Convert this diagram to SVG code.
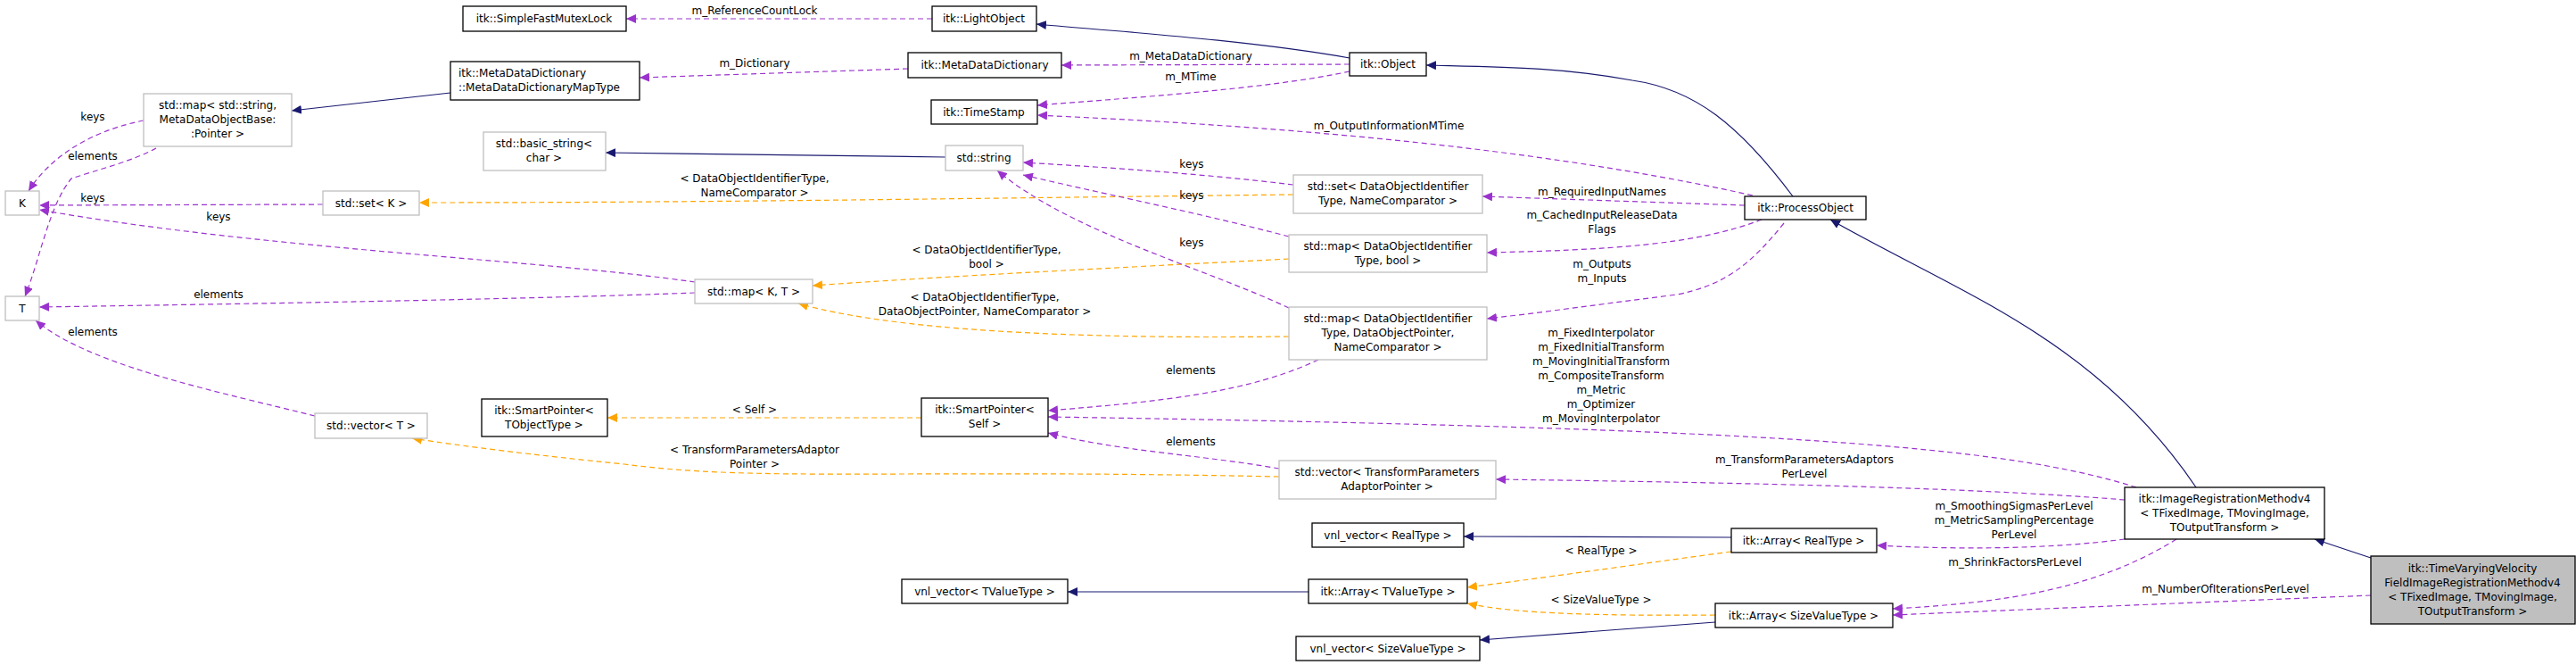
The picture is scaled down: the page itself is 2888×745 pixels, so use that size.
<svg xmlns="http://www.w3.org/2000/svg" width="2888" height="745" viewBox="0 0 2888 745">
<style>
text{font-family:"DejaVu Sans","Liberation Sans",sans-serif;font-size:12px;fill:#000;text-anchor:middle}
.l{text-anchor:start}
.b{fill:#fff;stroke:#000;stroke-width:1.3}
.g{fill:#fff;stroke:#bfbfbf;stroke-width:1.3}
.s{fill:#bfbfbf;stroke:#000;stroke-width:1.3}
.p{fill:none;stroke:#9a32cd;stroke-width:1.2;stroke-dasharray:6,4;marker-end:url(#mp)}
.o{fill:none;stroke:#ffa500;stroke-width:1.2;stroke-dasharray:6,4;marker-end:url(#mo)}
.n{fill:none;stroke:#191970;stroke-width:1.2;marker-end:url(#mn)}
</style>
<defs>
<marker id="mp" markerUnits="userSpaceOnUse" markerWidth="12" markerHeight="10" refX="11" refY="5" orient="auto"><path d="M0,0L11,5L0,10z" fill="#9a32cd"/></marker>
<marker id="mo" markerUnits="userSpaceOnUse" markerWidth="12" markerHeight="10" refX="11" refY="5" orient="auto"><path d="M0,0L11,5L0,10z" fill="#ffa500"/></marker>
<marker id="mn" markerUnits="userSpaceOnUse" markerWidth="12" markerHeight="10" refX="11" refY="5" orient="auto"><path d="M0,0L11,5L0,10z" fill="#191970"/></marker>
</defs>
<rect width="2888" height="745" fill="#fff"/>
<g id="connectors">
<path class="p" d="M1045,21L702,21"/><text x="846" y="16">m_ReferenceCountLock</text>
<path class="n" d="M1513,65C1400,45 1250,35 1162,27"/>
<path class="p" d="M1513,72L1190,73"/><text x="1335" y="67">m_MetaDataDictionary</text>
<path class="p" d="M1513,80C1420,100 1260,110 1163,118"/><text x="1335" y="90">m_MTime</text>
<path class="p" d="M1018,77L717,87"/><text x="846" y="75">m_Dictionary</text>
<path class="n" d="M505,104L327,124"/>
<path class="n" d="M1060,176L679,171"/>
<path class="p" d="M161,135C110,145 60,170 32,214"/><text x="104" y="135">keys</text>
<path class="p" d="M175,166C150,180 110,190 80,200C55,230 45,290 28,332"/><text x="104" y="179">elements</text>
<path class="p" d="M362,229L44,230"/><text x="104" y="226">keys</text>
<path class="p" d="M779,316C600,290 300,280 44,235"/><text x="245" y="247">keys</text>
<path class="p" d="M779,328C600,335 300,340 44,344"/><text x="245" y="334">elements</text>
<path class="p" d="M353,466C250,440 100,410 40,359"/><text x="104" y="376">elements</text>
<path class="o" d="M1450,218C1100,222 800,227 470,227"/><text x="846" y="204">&lt; DataObjectIdentifierType,</text><text x="846" y="220">NameComparator &gt;</text>
<path class="o" d="M1445,290C1250,300 1050,310 911,320"/><text x="1106" y="284">&lt; DataObjectIdentifierType,</text><text x="1106" y="300">bool &gt;</text>
<path class="o" d="M1445,377C1200,380 1000,370 895,340"/><text x="1104" y="337">&lt; DataObjectIdentifierType,</text><text x="1104" y="353">DataObjectPointer, NameComparator &gt;</text>
<path class="p" d="M1450,207C1350,195 1250,188 1147,182"/><text x="1336" y="188">keys</text>
<path class="p" d="M1445,265C1350,240 1250,220 1147,196"/><text x="1336" y="223">keys</text>
<path class="p" d="M1445,345C1350,300 1200,260 1118,191"/><text x="1336" y="276">keys</text>
<path class="p" d="M1965,219C1700,160 1400,140 1163,129"/><text x="1557" y="145">m_OutputInformationMTime</text>
<path class="p" d="M1956,230L1662,220"/><text x="1796" y="219">m_RequiredInputNames</text>
<path class="p" d="M1975,246C1900,275 1800,280 1667,283"/><text x="1796" y="245">m_CachedInputReleaseData</text><text x="1796" y="261">Flags</text>
<path class="p" d="M2000,250C1960,300 1930,320 1880,330C1800,340 1730,350 1667,357"/><text x="1796" y="300">m_Outputs</text><text x="1796" y="316">m_Inputs</text>
<path class="n" d="M2010,220C1950,140 1900,100 1830,90C1750,75 1680,75 1599,73"/>
<path class="p" d="M1478,403C1400,440 1300,450 1175,460"/><text x="1335" y="419">elements</text>
<path class="p" d="M1434,525C1350,510 1250,505 1175,485"/><text x="1335" y="499">elements</text>
<path class="p" d="M2395,546C2250,500 2000,480 1175,467"/>
<text x="1795" y="377">m_FixedInterpolator</text><text x="1795" y="393">m_FixedInitialTransform</text><text x="1795" y="409">m_MovingInitialTransform</text><text x="1795" y="425">m_CompositeTransform</text><text x="1795" y="441">m_Metric</text><text x="1795" y="457">m_Optimizer</text><text x="1795" y="473">m_MovingInterpolator</text>
<path class="o" d="M1033,468L681,468"/><text x="846" y="463">&lt; Self &gt;</text>
<path class="o" d="M1434,534C1000,525 850,540 700,520C600,510 520,500 462,491"/><text x="846" y="508">&lt; TransformParametersAdaptor</text><text x="846" y="524">Pointer &gt;</text>
<path class="p" d="M2382,560C2200,545 1900,540 1677,537"/><text x="2023" y="519">m_TransformParametersAdaptors</text><text x="2023" y="535">PerLevel</text>
<path class="p" d="M2382,604C2300,615 2200,616 2104,611"/><text x="2258" y="571">m_SmoothingSigmasPerLevel</text><text x="2258" y="587">m_MetricSamplingPercentage</text><text x="2258" y="603">PerLevel</text>
<path class="p" d="M2440,604C2350,660 2250,675 2122,682"/><text x="2259" y="634">m_ShrinkFactorsPerLevel</text>
<path class="n" d="M2658,625L2595,604"/>
<path class="p" d="M2658,667L2122,689"/><text x="2495" y="664">m_NumberOfIterationsPerLevel</text>
<path class="n" d="M2462,546C2350,380 2200,330 2052,246"/>
<path class="n" d="M1941,602L1641,601"/>
<path class="o" d="M1941,618C1850,630 1750,645 1645,658"/><text x="1795" y="621">&lt; RealType &gt;</text>
<path class="n" d="M1467,663L1197,663"/>
<path class="o" d="M1923,689C1800,690 1700,688 1645,676"/><text x="1795" y="676">&lt; SizeValueType &gt;</text>
<path class="n" d="M1923,697L1659,717"/>
</g>
<g id="n1"><rect class="b" x="519" y="7" width="183" height="28"/><text x="610" y="25">itk::SimpleFastMutexLock</text></g>
<g id="n2"><rect class="b" x="1045" y="7" width="117" height="28"/><text x="1103" y="25">itk::LightObject</text></g>
<g id="n3"><rect class="b" x="1018" y="59" width="172" height="28"/><text x="1104" y="77">itk::MetaDataDictionary</text></g>
<g id="n4"><rect class="b" x="505" y="69" width="212" height="43"/><text class="l" x="514" y="86">itk::MetaDataDictionary</text><text class="l" x="514" y="102">::MetaDataDictionaryMapType</text></g>
<g id="n5"><rect class="g" x="161" y="105" width="166" height="59"/><text x="244" y="122">std::map&lt; std::string,</text><text x="244" y="138">MetaDataObjectBase:</text><text x="244" y="154">:Pointer &gt;</text></g>
<g id="n6"><rect class="g" x="542" y="148" width="137" height="43"/><text x="610" y="165">std::basic_string&lt;</text><text x="610" y="181">char &gt;</text></g>
<g id="n7"><rect class="g" x="6" y="214" width="38" height="27"/><text x="25" y="232">K</text></g>
<g id="n8"><rect class="g" x="362" y="214" width="108" height="27"/><text x="416" y="232">std::set&lt; K &gt;</text></g>
<g id="n9"><rect class="g" x="779" y="313" width="132" height="27"/><text x="845" y="331">std::map&lt; K, T &gt;</text></g>
<g id="n10"><rect class="g" x="6" y="332" width="38" height="27"/><text x="25" y="350">T</text></g>
<g id="n11"><rect class="g" x="353" y="463" width="126" height="28"/><text x="416" y="481">std::vector&lt; T &gt;</text></g>
<g id="n12"><rect class="b" x="540" y="447" width="141" height="42"/><text x="610" y="464">itk::SmartPointer&lt;</text><text x="610" y="480">TObjectType &gt;</text></g>
<g id="n13"><rect class="b" x="1044" y="112" width="119" height="27"/><text x="1103" y="130">itk::TimeStamp</text></g>
<g id="n14"><rect class="g" x="1060" y="163" width="87" height="28"/><text x="1103" y="181">std::string</text></g>
<g id="n15"><rect class="b" x="1513" y="59" width="86" height="26"/><text x="1556" y="76">itk::Object</text></g>
<g id="n16"><rect class="g" x="1450" y="196" width="212" height="43"/><text x="1556" y="213">std::set&lt; DataObjectIdentifier</text><text x="1556" y="229">Type, NameComparator &gt;</text></g>
<g id="n17"><rect class="g" x="1445" y="263" width="222" height="42"/><text x="1556" y="280">std::map&lt; DataObjectIdentifier</text><text x="1556" y="296">Type, bool &gt;</text></g>
<g id="n18"><rect class="g" x="1445" y="344" width="222" height="59"/><text x="1556" y="361">std::map&lt; DataObjectIdentifier</text><text x="1556" y="377">Type, DataObjectPointer,</text><text x="1556" y="393">NameComparator &gt;</text></g>
<g id="n19"><rect class="b" x="1956" y="220" width="136" height="26"/><text x="2024" y="237">itk::ProcessObject</text></g>
<g id="n20"><rect class="b" x="1033" y="446" width="142" height="43"/><text x="1104" y="463">itk::SmartPointer&lt;</text><text x="1104" y="479">Self &gt;</text></g>
<g id="n21"><rect class="g" x="1434" y="516" width="243" height="43"/><text x="1555" y="533">std::vector&lt; TransformParameters</text><text x="1555" y="549">AdaptorPointer &gt;</text></g>
<g id="n22"><rect class="b" x="1471" y="586" width="170" height="27"/><text x="1556" y="604">vnl_vector&lt; RealType &gt;</text></g>
<g id="n23"><rect class="b" x="1467" y="649" width="178" height="27"/><text x="1556" y="667">itk::Array&lt; TValueType &gt;</text></g>
<g id="n24"><rect class="b" x="1011" y="649" width="186" height="27"/><text x="1104" y="667">vnl_vector&lt; TValueType &gt;</text></g>
<g id="n25"><rect class="b" x="1453" y="713" width="206" height="27"/><text x="1556" y="731">vnl_vector&lt; SizeValueType &gt;</text></g>
<g id="n26"><rect class="b" x="1941" y="592" width="163" height="27"/><text x="2022" y="610">itk::Array&lt; RealType &gt;</text></g>
<g id="n27"><rect class="b" x="1923" y="676" width="199" height="27"/><text x="2022" y="694">itk::Array&lt; SizeValueType &gt;</text></g>
<g id="n28"><rect class="b" x="2382" y="546" width="224" height="58"/><text x="2494" y="563">itk::ImageRegistrationMethodv4</text><text x="2494" y="579">&lt; TFixedImage, TMovingImage,</text><text x="2494" y="595">TOutputTransform &gt;</text></g>
<g id="n29"><rect class="s" x="2658" y="623" width="229" height="76"/><text x="2772" y="641">itk::TimeVaryingVelocity</text><text x="2772" y="657">FieldImageRegistrationMethodv4</text><text x="2772" y="673">&lt; TFixedImage, TMovingImage,</text><text x="2772" y="689">TOutputTransform &gt;</text></g>
</svg>
